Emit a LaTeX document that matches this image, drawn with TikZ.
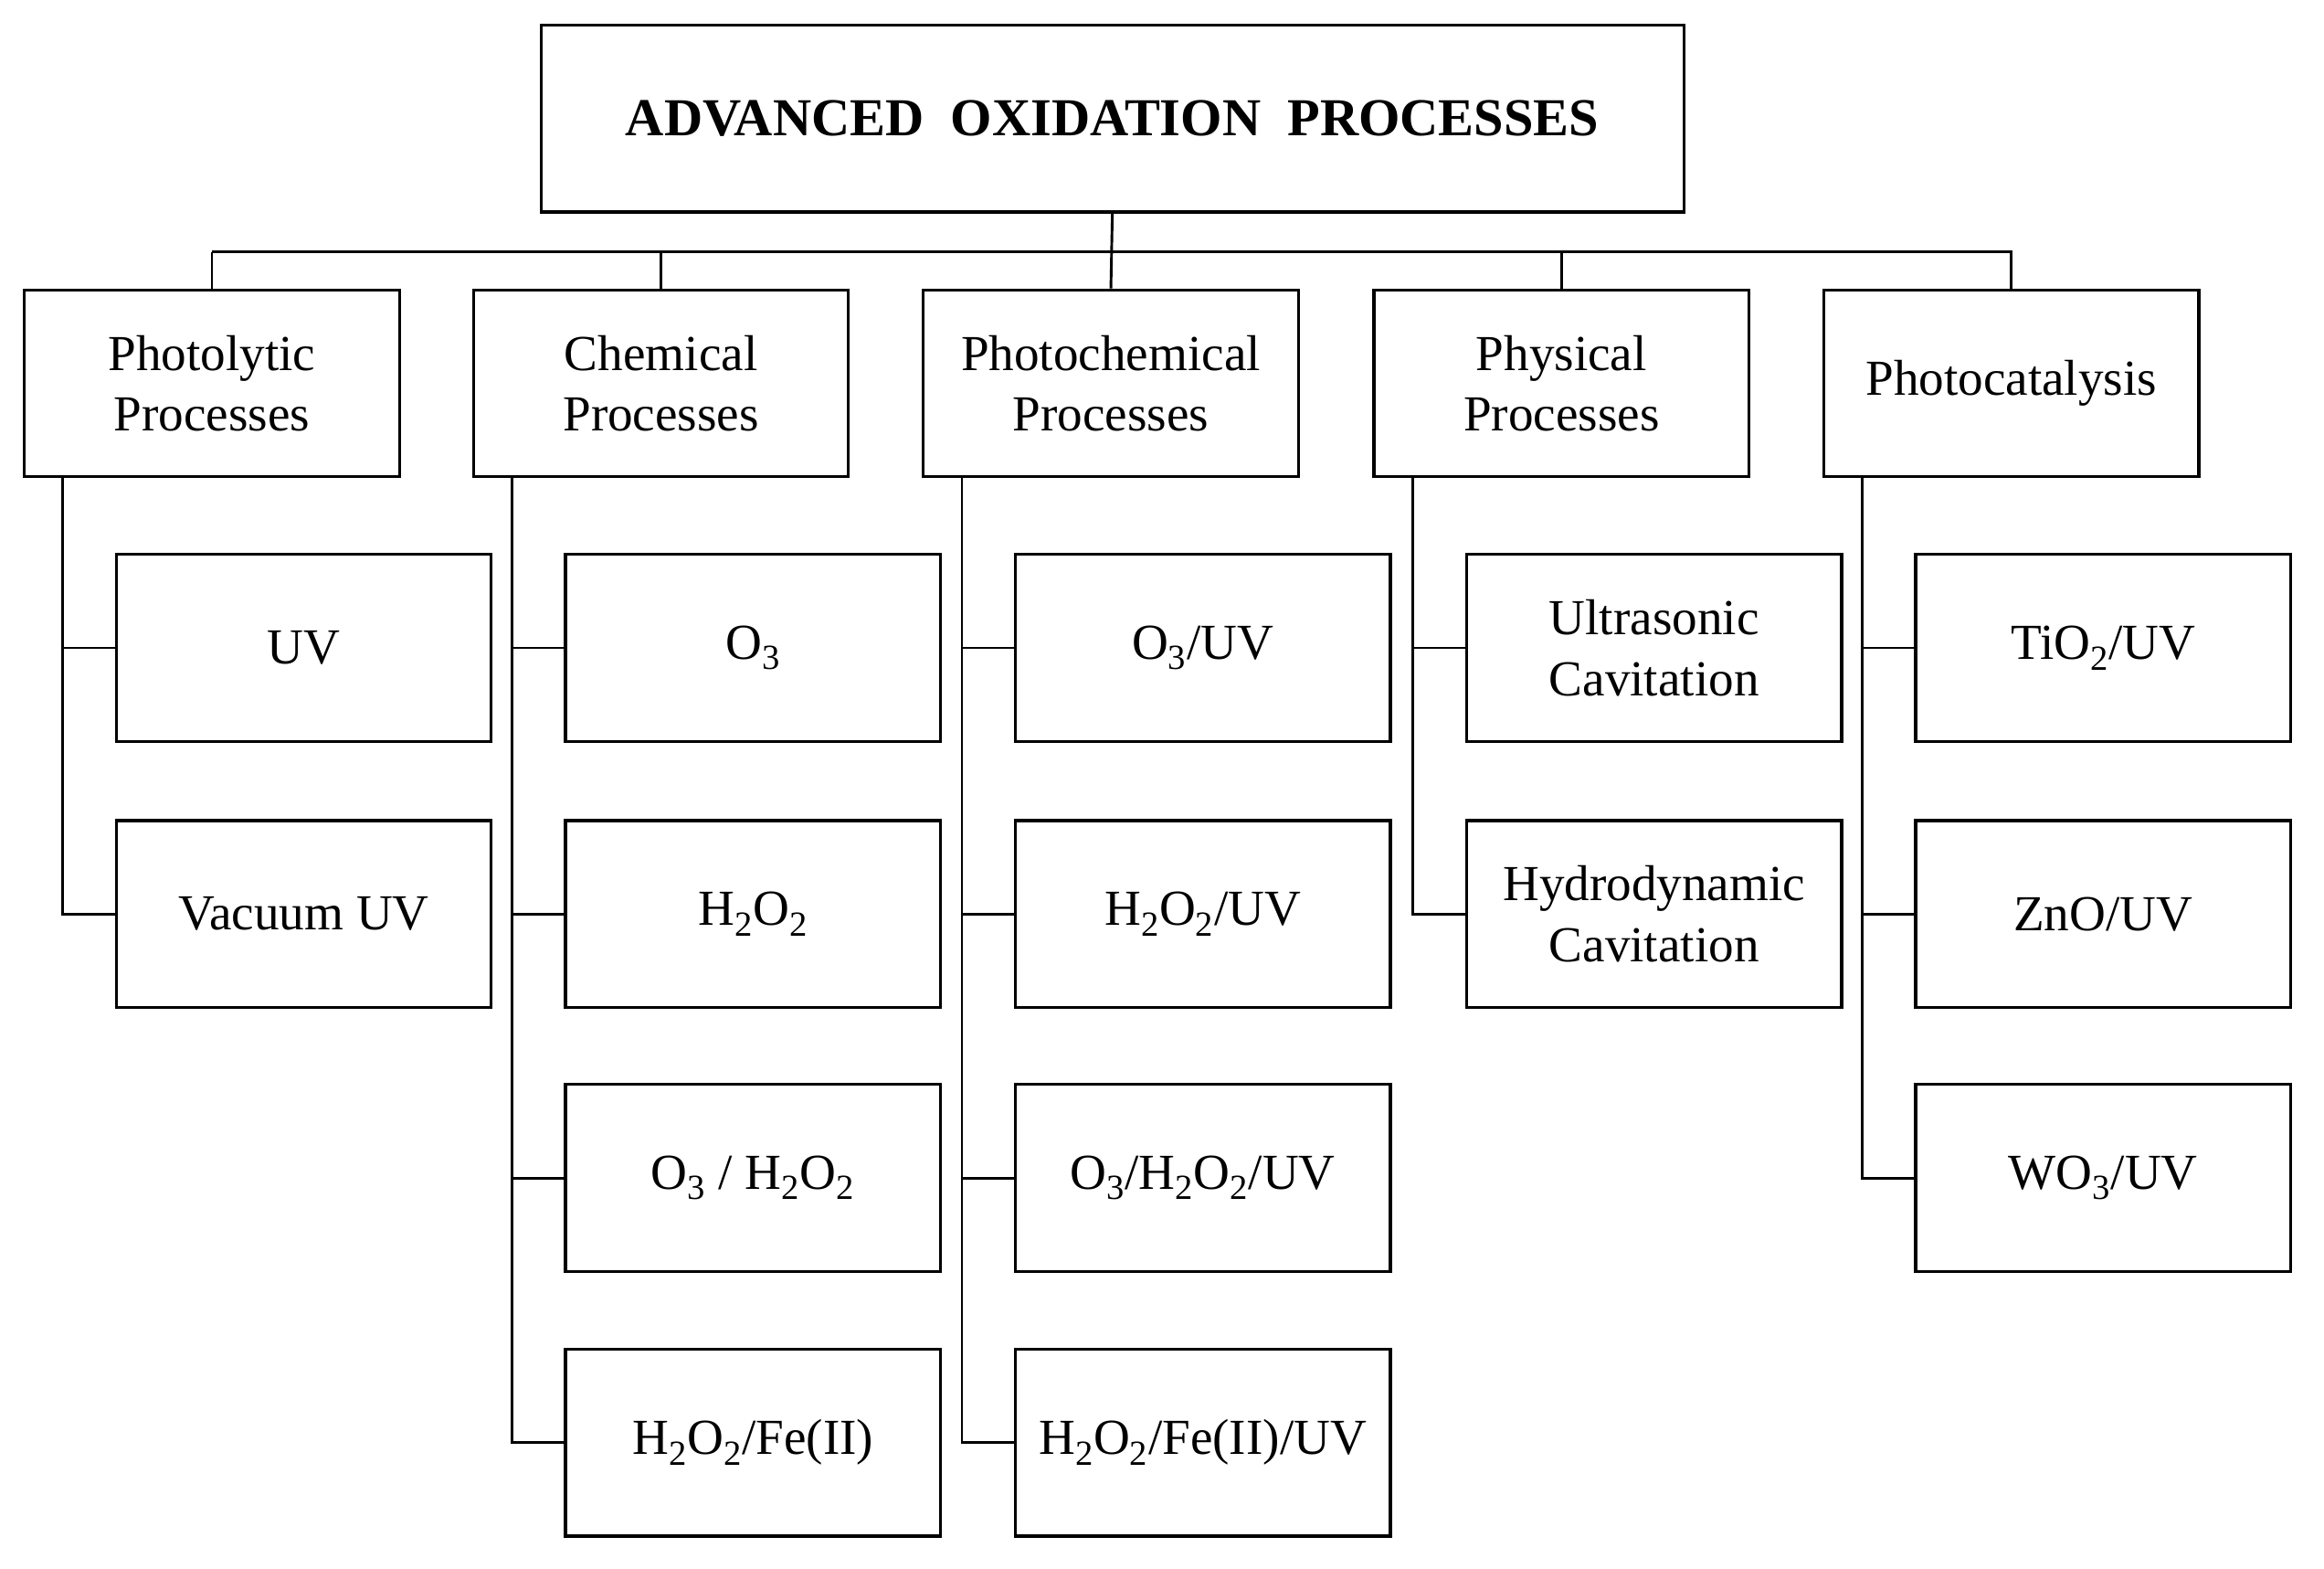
\documentclass[tikz,border=0pt]{standalone}
\usepackage{fontspec}
\setmainfont{Liberation Serif}
\newcommand{\sbs}[1]{\textsubscript{#1}}
\begin{document}
\begin{tikzpicture}[x=1pt,y=-1pt,
  box/.style={draw, line width=2pt, minimum width=253pt, minimum height=126pt, align=center, inner sep=2pt,
    font=\fontsize{34}{41}\selectfont},
  ln/.style={line width=1.8pt}]
\useasboundingbox (0,0) rectangle (1568,1058);
\node[draw, line width=2pt, minimum width=771pt, minimum height=126pt, font=\fontsize{36}{42}\selectfont\bfseries] (T) at (750.5,80) {ADVANCED\ \ OXIDATION\ \ PROCESSES};
\node[box] (C1) at (143,258.5) {Photolytic\\Processes};
\node[box] (C2) at (446,258.5) {Chemical\\Processes};
\node[box] (C3) at (749.5,258.5) {Photochemical\\Processes};
\node[box] (C4) at (1053.5,258.5) {Physical\\Processes};
\node[box] (C5) at (1357,258.5) {Photocatalysis};
% children
\node[box] (A1) at (205,437) {UV};
\node[box] (A2) at (205,616.5) {Vacuum UV};
\node[box] (B1) at (508,437) {O\sbs{3}};
\node[box] (B2) at (508,616.5) {H\sbs{2}O\sbs{2}};
\node[box] (B3) at (508,794.5) {O\sbs{3} / H\sbs{2}O\sbs{2}};
\node[box] (B4) at (508,973) {H\sbs{2}O\sbs{2}/Fe(II)};
\node[box] (D1) at (811.5,437) {O\sbs{3}/UV};
\node[box] (D2) at (811.5,616.5) {H\sbs{2}O\sbs{2}/UV};
\node[box] (D3) at (811.5,794.5) {O\sbs{3}/H\sbs{2}O\sbs{2}/UV};
\node[box] (D4) at (811.5,973) {H\sbs{2}O\sbs{2}/Fe(II)/UV};
\node[box] (E1) at (1116,437) {Ultrasonic\\Cavitation};
\node[box] (E2) at (1116,616.5) {Hydrodynamic\\Cavitation};
\node[box] (F1) at (1419,437) {TiO\sbs{2}/UV};
\node[box] (F2) at (1419,616.5) {ZnO/UV};
\node[box] (F3) at (1419,794.5) {WO\sbs{3}/UV};
% bus
\coordinate (busL) at (143,170);
\coordinate (busR) at (1358,170);
\draw[ln] (busL) -- (busR);
\draw[ln] (T.south) -- (C3.north);
\foreach \c in {C1,C2,C4,C5} \draw[ln] (\c.north) -- (\c.north |- busL);
% trunks
\foreach \c/\last/\kids in {C1/A2/{A1,A2}, C2/B4/{B1,B2,B3,B4}, C3/D4/{D1,D2,D3,D4}, C4/E2/{E1,E2}, C5/F3/{F1,F2,F3}}{
  \coordinate (tr-\c) at ([xshift=27pt]\c.south west);
  \draw[ln] (tr-\c) |- (\last.west);
  \foreach \k in \kids \draw[ln] (\k.west) -- (\k.west -| tr-\c);
}
\end{tikzpicture}
\end{document}
